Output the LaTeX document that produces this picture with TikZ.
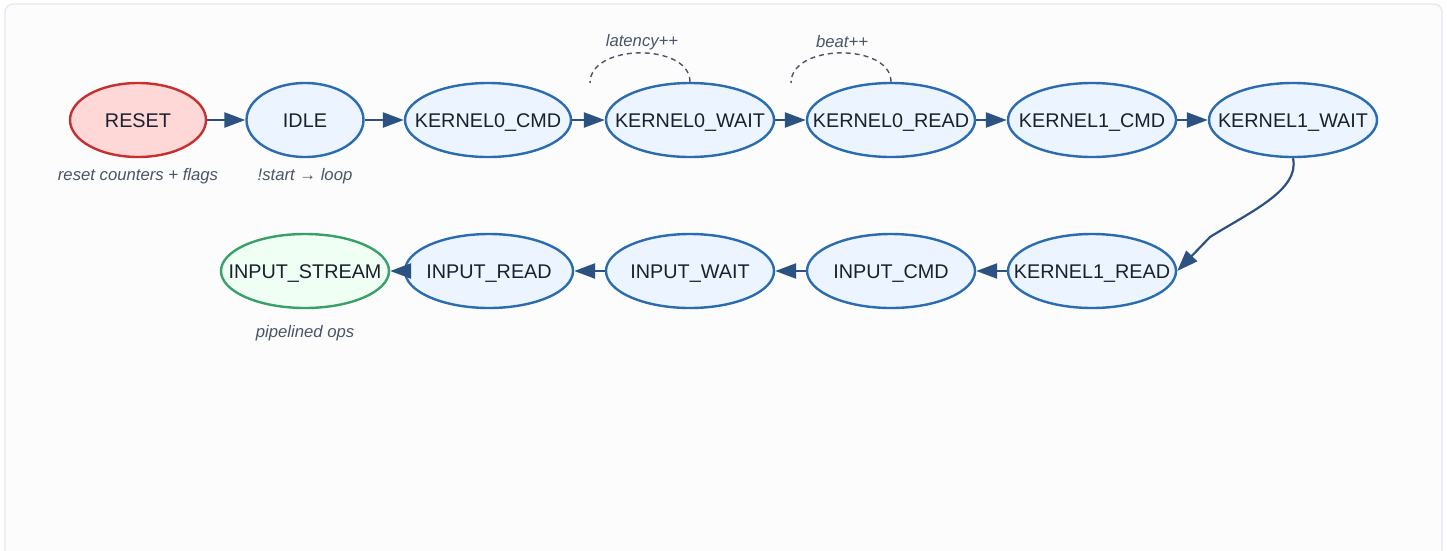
\documentclass[tikz,border=0pt]{standalone}
\usepackage{fontspec}
\setmainfont{Liberation Sans}
\usetikzlibrary{shapes.geometric,arrows.meta}
\definecolor{pagebg}{HTML}{FCFCFC}
\definecolor{frameline}{HTML}{E2E8F0}
\definecolor{stfill}{HTML}{EBF4FF}
\definecolor{stline}{HTML}{2B6CB0}
\definecolor{rsfill}{HTML}{FED7D7}
\definecolor{rsline}{HTML}{C53030}
\definecolor{okfill}{HTML}{F0FFF4}
\definecolor{okline}{HTML}{38A169}
\definecolor{edgecol}{HTML}{2C5282}
\definecolor{txtcol}{HTML}{1A202C}
\definecolor{notecol}{HTML}{4A5568}
\newcommand{\sttext}[1]{\makebox[0pt][c]{#1}}
\tikzset{
  state/.style={ellipse, draw=stline, fill=stfill, line width=2.4pt, inner sep=0pt,
    minimum width=168pt, minimum height=74pt, text=txtcol,
    text height=14.2pt, text depth=0pt,
    font=\fontsize{19.8}{23}\selectfont},
  resetst/.style={state, draw=rsline, fill=rsfill},
  streamst/.style={state, draw=okline, fill=okfill},
  note/.style={text=notecol, font=\fontsize{16.7}{20}\selectfont\itshape, inner sep=0pt},
  tr/.style={draw=edgecol, line width=2.5pt, -{Triangle[length=21pt,width=15pt]}},
  loopline/.style={draw=notecol, line width=1.4pt, dash pattern=on 5pt off 4pt}
}
\begin{document}
\begin{tikzpicture}[x=1pt,y=-1pt]
  \useasboundingbox (0,0) rectangle (1447,550);
  \fill[white] (0,0) rectangle (1447,550);
  \draw[frameline, fill=pagebg, line width=1.2pt, rounded corners=8pt]
    (5,4) rectangle (1442,570);

  % top row
  \node[resetst, minimum width=136pt] (reset) at (138,120) {\sttext{RESET}};
  \node[state, minimum width=117pt] (idle) at (305,120) {\sttext{IDLE}};
  \node[state, minimum width=166pt] (k0c) at (488,120) {\sttext{KERNEL0\_CMD}};
  \node[state] (k0w) at (690,120) {\sttext{KERNEL0\_WAIT}};
  \node[state] (k0r) at (891,120) {\sttext{KERNEL0\_READ}};
  \node[state] (k1c) at (1092,120) {\sttext{KERNEL1\_CMD}};
  \node[state] (k1w) at (1293,120) {\sttext{KERNEL1\_WAIT}};

  % bottom row
  \node[state] (k1r) at (1092,271) {\sttext{KERNEL1\_READ}};
  \node[state] (icmd) at (891,271) {\sttext{INPUT\_CMD}};
  \node[state] (iwait) at (690,271) {\sttext{INPUT\_WAIT}};
  \node[state] (iread) at (489,271) {\sttext{INPUT\_READ}};
  \node[streamst] (istream) at (305,271) {\sttext{INPUT\_STREAM}};

  % notes
  \node[note] (nreset) at (138,176) {reset counters + flags};
  \node[note] (nidle) at (305,176) {!start → loop};
  \node[note] (nstream) at (305,333) {pipelined ops};
  \node[note] (nlat) at (642,42) {latency++};
  \node[note] (nbeat) at (842,42) {beat++};

  % transitions
  \draw[tr] (reset) -- (idle);
  \draw[tr] (idle) -- (k0c);
  \draw[tr] (k0c) -- (k0w);
  \draw[tr] (k0w) -- (k0r);
  \draw[tr] (k0r) -- (k1c);
  \draw[tr] (k1c) -- (k1w);
  \coordinate (bend) at (1210,237);
  \draw[tr, line width=2.2pt] (k1w.south) .. controls (1300,190) and (1250,212) .. (bend) -- (k1r.east);
  \draw[tr] (k1r) -- (icmd);
  \draw[tr] (icmd) -- (iwait);
  \draw[tr] (iwait) -- (iread);
  \draw[tr] (iread) -- (istream);

  % self loops
  \coordinate (lat) at (590,83);
  \coordinate (bt) at (791,83);
  \draw[loopline] (k0w.north) .. controls (690,43) and (590,43) .. (lat);
  \draw[loopline] (k0r.north) .. controls (891,43) and (791,43) .. (bt);
\end{tikzpicture}
\end{document}
